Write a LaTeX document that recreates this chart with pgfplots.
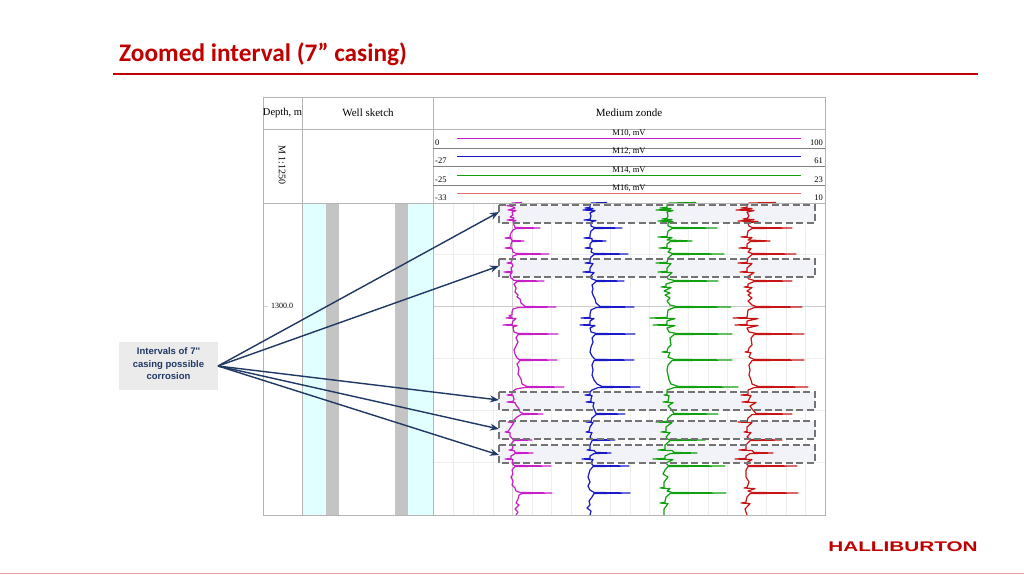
\documentclass[border=0pt]{standalone}
\usepackage{fontspec}
\setmainfont{Liberation Serif}
\newfontfamily\carlito{Carlito}
\newfontfamily\arial{Liberation Sans}
\usepackage{pgfplots}
\usepackage{pgfplotstable}
\pgfplotsset{compat=1.18}
\usetikzlibrary{arrows.meta}

\definecolor{titlered}{HTML}{C00000}
\definecolor{footline}{HTML}{E8A0A0}
\definecolor{navy}{HTML}{1F3864}
\definecolor{gridc}{HTML}{B4B4B4}
\definecolor{boxfill}{HTML}{F2F3F8}
\definecolor{wellc}{HTML}{E2FFFF}
\definecolor{casing}{HTML}{C4C4C4}
\definecolor{mten}{HTML}{C81EC8}
\definecolor{mtwelve}{HTML}{1A1AC8}
\definecolor{mfourteen}{HTML}{10A010}
\definecolor{msixteen}{HTML}{C81414}
\definecolor{msixteenl}{HTML}{E07070}

% curves in picture pixels: position across the track, position down the track
\pgfplotstableread[row sep=\\]{
x y\\
522 202.5\\ 512 203\\ 512 205\\ 507 205.6\\ 512 206.4\\ 515 208\\ 512 209\\ 508 210\\ 516 210.6\\ 512 212\\
513 215\\ 510 217\\ 514 218\\ 513 219.4\\ 507 220\\ 516 220.6\\ 513 221.5\\ 514 225\\ 515 227.4\\ 540 228\\
516 228.6\\ 513 230\\ 511 233\\ 510 236\\ 511 237.4\\ 505 238\\ 511 238.6\\ 512 240.4\\ 524 241\\ 512 241.6\\
511 244\\ 511 247.4\\ 505 248\\ 512 248.6\\ 513 252\\ 516 253.4\\ 549 254\\ 517 254.6\\ 513 256\\ 512 260\\
511 262.4\\ 507 263\\ 512 263.6\\ 513 266\\ 511 268\\ 512 271.4\\ 504 272\\ 512 272.6\\ 510 275\\ 511 278\\
514 280.4\\ 544 281\\ 517 281.6\\ 514 284\\ 516 288\\ 515 292\\ 518 295\\ 517 297\\ 520 299\\ 521 303\\
525 306.4\\ 556 307\\ 518 307.6\\ 513 309\\ 512 312\\ 512 315\\ 509 315.6\\ 512 317.4\\ 506 318\\ 516 318.6\\
513 321\\ 512 324.4\\ 503 325\\ 517 325.6\\ 513 327\\ 514 332\\ 518 333.4\\ 558 334\\ 518 334.6\\ 516 338\\
518 342\\ 516 346\\ 514 350\\ 515 354\\ 517 358\\ 519 359.4\\ 557 360\\ 520 360.6\\ 517 364\\ 519 369\\
518 374\\ 521 379\\ 522 384\\ 527 386.4\\ 564 387\\ 524 387.6\\ 516 389\\ 512 392\\ 512 394.4\\ 507 395\\
513 395.6\\ 514 399\\ 513 401.4\\ 507 402\\ 515 402.6\\ 516 405\\ 519 409\\ 520 412\\ 523 413.4\\ 543 414\\
521 414.6\\ 517 417\\ 514 420\\ 512 421.4\\ 508 422\\ 514 422.6\\ 511 427\\ 509 430\\ 508 431.4\\ 505 432\\
510 432.6\\ 510 436\\ 513 439.4\\ 532 440\\ 514 440.6\\ 511 444\\ 513 447\\ 512 449.4\\ 509 450\\ 514 450.6\\
515 452.4\\ 533 453\\ 515 453.6\\ 511 456\\ 511 458.4\\ 505 459\\ 513 459.6\\ 512 463\\ 514 465.4\\ 551 466\\
515 466.6\\ 512 470\\ 513 474\\ 511 477\\ 513 481\\ 512 485\\ 515 488\\ 516 491\\ 520 492.4\\ 552 493\\
522 493.6\\ 519 495\\ 518 499\\ 516 503\\ 519 505\\ 515 509\\ 518 512\\ 516 515\\
}\mten

\pgfplotstableread[row sep=\\]{
x y\\
607 202.5\\ 591 203\\ 590 205\\ 590 207.4\\ 585 208\\ 593 208.6\\ 590 209.4\\ 583 210\\ 595 210.6\\ 590 213\\
591 216\\ 590 219.4\\ 584 220\\ 596 220.6\\ 591 222\\ 591 226\\ 594 227.4\\ 622 228\\ 594 228.6\\ 591 231\\
590 235\\ 590 237.4\\ 584 238\\ 592 238.6\\ 592 240.4\\ 606 241\\ 592 241.6\\ 590 244\\ 590 247.4\\ 585 248\\
592 248.6\\ 591 252\\ 594 253.4\\ 628 254\\ 594 254.6\\ 591 257\\ 590 260\\ 590 262.4\\ 585 263\\ 593 263.6\\
590 268\\ 590 271.4\\ 583 272\\ 594 272.6\\ 590 277\\ 592 279\\ 596 280.4\\ 624 281\\ 596 281.6\\ 592 285\\
593 289\\ 592 292\\ 593 295\\ 595 299\\ 596 303\\ 600 306.4\\ 634 307\\ 596 307.6\\ 591 310\\ 590 314\\
590 317.4\\ 581 318\\ 594 318.6\\ 590 321\\ 590 324.4\\ 580 325\\ 595 325.6\\ 590 328\\ 591 332\\ 596 333.4\\
635 334\\ 595 334.6\\ 592 338\\ 593 342\\ 591 347\\ 590 352\\ 592 356\\ 595 359.4\\ 634 360\\ 594 360.6\\
592 365\\ 593 370\\ 592 375\\ 594 380\\ 597 384\\ 602 386.4\\ 640 387\\ 598 387.6\\ 592 390\\ 590 392\\
590 394.4\\ 585 395\\ 592 395.6\\ 591 399\\ 591 401.4\\ 586 402\\ 594 402.6\\ 593 406\\ 594 409\\ 596 413.4\\
625 414\\ 596 414.6\\ 592 418\\ 591 421.4\\ 586 422\\ 593 422.6\\ 590 427\\ 589 431.4\\ 586 432\\ 592 432.6\\
590 437\\ 592 439.4\\ 615 440\\ 592 440.6\\ 590 445\\ 590 449.4\\ 587 450\\ 594 450.6\\ 596 452.4\\ 611 453\\
594 453.6\\ 590 456\\ 590 458.4\\ 582 459\\ 593 459.6\\ 591 463\\ 593 465.4\\ 629 466\\ 593 466.6\\ 590 470\\
588 477\\ 590 482\\ 588 486\\ 590 490\\ 594 492.4\\ 630 493\\ 594 493.6\\ 592 497\\ 589 501\\ 590 505\\
587 508\\ 591 511\\ 590 515\\
}\mtwelve

\pgfplotstableread[row sep=\\]{
x y\\
696 202.5\\ 669 203\\ 667 205\\ 667 207.4\\ 660 208\\ 671 208.6\\ 667 209.4\\ 656 210\\ 673 210.6\\ 667 212\\
668 216\\ 667 218.4\\ 662 219\\ 672 219.6\\ 667 220.4\\ 658 221\\ 673 221.6\\ 668 223\\ 668 226\\ 672 227.4\\
717 228\\ 672 228.6\\ 668 231\\ 667 236.4\\ 658 237\\ 672 237.6\\ 667 240\\ 692 241\\ 670 241.6\\ 667 244\\
667 247.4\\ 659 248\\ 671 248.6\\ 668 252\\ 672 253.4\\ 724 254\\ 672 254.6\\ 668 258\\ 667 262.4\\ 656 263\\
671 263.6\\ 667 268\\ 667 271.4\\ 658 272\\ 672 272.6\\ 667 277\\ 668 279\\ 674 280.4\\ 718 281\\ 674 281.6\\
666 284\\ 666 286.4\\ 661 287\\ 671 287.6\\ 666 290\\ 664 291\\ 670 293\\ 665 295\\ 670 298\\ 667 301\\
670 305\\ 676 306.4\\ 731 307\\ 674 307.6\\ 668 310\\ 667 317.4\\ 650 318\\ 675 318.6\\ 667 321\\ 667 324.4\\
653 325\\ 675 325.6\\ 667 328\\ 669 332\\ 676 333.4\\ 732 334\\ 674 334.6\\ 670 338\\ 671 345\\ 668 348\\
667 351.4\\ 662 352\\ 670 352.6\\ 668 357\\ 674 359.4\\ 732 360\\ 672 360.6\\ 668 365\\ 667 370\\ 668 375\\
669 380\\ 671 384\\ 678 386.4\\ 738 387\\ 674 387.6\\ 667 390\\ 667 394.4\\ 664 395\\ 669 395.6\\ 668 401.4\\
663 402\\ 673 402.6\\ 668 406\\ 671 409\\ 674 413.4\\ 718 414\\ 672 414.6\\ 668 418\\ 667 421.4\\ 656 422\\
672 422.6\\ 666 427\\ 666 431.4\\ 661 432\\ 670 432.6\\ 666 437\\ 668 439.4\\ 705 440\\ 670 440.6\\ 665 445\\
665 449.4\\ 658 450\\ 672 450.6\\ 674 452.4\\ 697 453\\ 670 453.6\\ 665 456\\ 665 458.4\\ 653 459\\ 673 459.6\\
666 463\\ 668 465.4\\ 725 466\\ 668 466.6\\ 665 470\\ 663 474\\ 668 477\\ 664 482\\ 664 487.4\\ 660 488\\
670 488.6\\ 667 491\\ 672 492.4\\ 726 493\\ 670 493.6\\ 666 497\\ 665 501\\ 665 502.4\\ 660 503\\ 668 503.6\\
664 509\\ 664 515\\
}\mfourteen

\pgfplotstableread[row sep=\\]{
x y\\
776 202.5\\ 749 203\\ 747 205\\ 747 207.4\\ 741 208\\ 752 208.6\\ 747 209.4\\ 736 210\\ 754 210.6\\ 747 212\\
749 216\\ 747 218.4\\ 743 219\\ 754 219.6\\ 747 220.4\\ 738 221\\ 758 221.6\\ 748 223\\ 749 226\\ 752 227.4\\
792 228\\ 752 228.6\\ 748 231\\ 747 236.4\\ 741 237\\ 752 237.6\\ 748 240\\ 770 241\\ 750 241.6\\ 747 244\\
747 247.4\\ 739 248\\ 751 248.6\\ 748 252\\ 752 253.4\\ 796 254\\ 752 254.6\\ 748 258\\ 747 262.4\\ 738 263\\
752 263.6\\ 747 268\\ 747 271.4\\ 740 272\\ 754 272.6\\ 747 277\\ 749 279\\ 754 280.4\\ 792 281\\ 754 281.6\\
748 284\\ 748 286.4\\ 744 287\\ 752 287.6\\ 747 291\\ 751 293\\ 748 295\\ 752 298\\ 748 301\\ 752 305\\
756 306.4\\ 802 307\\ 754 307.6\\ 748 310\\ 747 317.4\\ 733 318\\ 758 318.6\\ 747 321\\ 747 324.4\\ 735 325\\
758 325.6\\ 747 328\\ 749 332\\ 756 333.4\\ 804 334\\ 754 334.6\\ 751 338\\ 752 345\\ 749 348\\ 748 351.4\\
745 352\\ 751 352.6\\ 749 357\\ 754 359.4\\ 804 360\\ 752 360.6\\ 749 365\\ 750 370\\ 749 375\\ 751 380\\
752 384\\ 758 386.4\\ 808 387\\ 754 387.6\\ 748 390\\ 748 394.4\\ 741 395\\ 751 395.6\\ 748 401.4\\ 742 402\\
756 402.6\\ 750 406\\ 752 409\\ 756 413.4\\ 792 414\\ 752 414.6\\ 748 418\\ 747 421.4\\ 738 422\\ 752 422.6\\
747 427\\ 747 431.4\\ 744 432\\ 751 432.6\\ 747 437\\ 750 439.4\\ 782 440\\ 750 440.6\\ 746 445\\ 746 449.4\\
739 450\\ 752 450.6\\ 754 452.4\\ 773 453\\ 750 453.6\\ 746 456\\ 746 458.4\\ 735 459\\ 752 459.6\\ 746 463\\
748 465.4\\ 797 466\\ 748 466.6\\ 746 470\\ 746 477\\ 749 482\\ 747 487.4\\ 744 488\\ 755 488.6\\ 748 491\\
752 492.4\\ 798 493\\ 750 493.6\\ 747 497\\ 746 501\\ 746 502.4\\ 741 503\\ 750 503.6\\ 745 509\\ 747 515\\
}\msixteen

\begin{document}
\begin{tikzpicture}
\begin{axis}[
scale only axis,
width=1024pt, height=574pt,
xmin=0, xmax=1024,
ymin=0, ymax=574,
y dir=reverse,
axis lines=none,
ticks=none,
clip=true,
]
% hidden axis: the white page keeps the bounding box at full size
\fill[white] (axis cs:0,0) rectangle (axis cs:1024,574);

% well sketch
\fill[wellc] (axis cs:302,203) rectangle (axis cs:326,515);
\fill[wellc] (axis cs:408,203) rectangle (axis cs:433,515);
\fill[casing] (axis cs:326,203) rectangle (axis cs:339,515);
\fill[casing] (axis cs:395,203) rectangle (axis cs:408,515);

% faint track grid
\foreach \gx in {453,473,493,532,551,571,610,630,649,669,688,708,727,766,786,805}
  \edef\temp{\noexpand\draw[draw=gridc!22,line width=0.4pt] (axis cs:\gx,203) -- (axis cs:\gx,515);}\temp
\foreach \gy in {254,358,410,462}
  \edef\temp{\noexpand\draw[draw=gridc!22,line width=0.4pt] (axis cs:433,\gy) -- (axis cs:825,\gy);}\temp
\draw[draw=gridc!60,line width=0.4pt] (axis cs:512.5,203) -- (axis cs:512.5,515);
\draw[draw=gridc!70,line width=0.9pt] (axis cs:433,306) -- (axis cs:825,306);
\draw[draw=gridc!60,line width=0.4pt] (axis cs:263,306) -- (axis cs:268,306);

% intervals
\foreach \a/\b in {205/223,259/277,392/410,421/439,445/463}{
  \edef\temp{\noexpand\fill[boxfill] (axis cs:499,\a) rectangle (axis cs:815,\b);}\temp
}

\addplot[mten,line width=1.2pt,line join=round,forget plot] table[x=x,y=y] {\mten};
\addplot[mtwelve,line width=1.2pt,line join=round,forget plot] table[x=x,y=y] {\mtwelve};
\addplot[mfourteen,line width=1.2pt,line join=round,forget plot] table[x=x,y=y] {\mfourteen};
\addplot[msixteen,line width=1.2pt,line join=round,forget plot] table[x=x,y=y] {\msixteen};

\foreach \a/\b in {205/223,259/277,392/410,421/439,445/463}{
  \edef\temp{\noexpand\draw[draw=black!55,line width=1.4pt,dash pattern=on 7pt off 3.5pt] (axis cs:499,\a) rectangle (axis cs:815,\b);}\temp
}

% frame
\draw[draw=gridc,line width=0.8pt] (axis cs:263,97) rectangle (axis cs:825,515);
\draw[draw=gridc,line width=0.8pt] (axis cs:263,129) -- (axis cs:825,129);
\draw[draw=gridc,line width=0.8pt] (axis cs:263,203) -- (axis cs:825,203);
\draw[draw=gridc,line width=0.8pt] (axis cs:302,97) -- (axis cs:302,515);
\draw[draw=gridc,line width=0.8pt] (axis cs:433,97) -- (axis cs:433,515);
\fill[black!50] (axis cs:433,147.5) rectangle (axis cs:825,148.5);
\fill[black!50] (axis cs:433,165.5) rectangle (axis cs:825,166.5);
\fill[black!50] (axis cs:433,184.5) rectangle (axis cs:825,185.5);

% header
\node[font=\fontsize{10.5}{13}\selectfont] at (axis cs:282.5,113) {Depth, m};
\node[font=\fontsize{11}{13}\selectfont] at (axis cs:368,113) {Well sketch};
\node[font=\fontsize{11}{13}\selectfont] at (axis cs:629,113) {Medium zonde};
\node[font=\fontsize{10}{12}\selectfont,rotate=-90] at (axis cs:282,165) {M 1:1250};
\node[font=\fontsize{8}{10}\selectfont] at (axis cs:282,306) {1300.0};

\fill[mten] (axis cs:457,137.5) rectangle (axis cs:801,138.5);
\fill[mtwelve] (axis cs:457,155.5) rectangle (axis cs:801,156.5);
\fill[mfourteen] (axis cs:457,174.5) rectangle (axis cs:801,175.5);
\fill[msixteenl] (axis cs:457,192.5) rectangle (axis cs:801,193.5);
\node[font=\fontsize{8.5}{10}\selectfont] at (axis cs:629,133) {M10, mV};
\node[font=\fontsize{8.5}{10}\selectfont] at (axis cs:629,151) {M12, mV};
\node[font=\fontsize{8.5}{10}\selectfont] at (axis cs:629,170) {M14, mV};
\node[font=\fontsize{8.5}{10}\selectfont] at (axis cs:629,188) {M16, mV};
\node[font=\fontsize{8.5}{10}\selectfont,anchor=west,inner sep=0pt] at (axis cs:435,143) {0};
\node[font=\fontsize{8.5}{10}\selectfont,anchor=west,inner sep=0pt] at (axis cs:435,161) {-27};
\node[font=\fontsize{8.5}{10}\selectfont,anchor=west,inner sep=0pt] at (axis cs:435,180) {-25};
\node[font=\fontsize{8.5}{10}\selectfont,anchor=west,inner sep=0pt] at (axis cs:435,198) {-33};
\node[font=\fontsize{8.5}{10}\selectfont,anchor=east,inner sep=0pt] at (axis cs:823,143) {100};
\node[font=\fontsize{8.5}{10}\selectfont,anchor=east,inner sep=0pt] at (axis cs:823,161) {61};
\node[font=\fontsize{8.5}{10}\selectfont,anchor=east,inner sep=0pt] at (axis cs:823,180) {23};
\node[font=\fontsize{8.5}{10}\selectfont,anchor=east,inner sep=0pt] at (axis cs:823,198) {10};

% call-out
\fill[black!8] (axis cs:119,342) rectangle (axis cs:218,390);
\node[font=\arial\bfseries\fontsize{9.5}{12.5}\selectfont,text=navy,align=center] at (axis cs:168.5,364) {Intervals of 7''\\casing possible\\corrosion};
\foreach \ty in {212,266,400,429,455}{
  \edef\temp{\noexpand\draw[draw=navy,fill=navy,line width=1.4pt,-{Stealth[length=9pt,width=7pt]}] (axis cs:218,366) -- (axis cs:499,\ty);}\temp
}

% slide furniture
\node[font=\carlito\bfseries\fontsize{25.3}{28}\selectfont,text=titlered,anchor=west,inner sep=0pt] at (axis cs:119,54) {Zoomed interval (7” casing)};
\fill[titlered] (axis cs:113,72.5) rectangle (axis cs:978,74.5);
\node[font=\arial\bfseries\fontsize{14}{16}\selectfont,text=titlered,inner sep=0pt,xscale=1.48] at (axis cs:903,547) {HALLIBURTON};
\fill[footline] (axis cs:0,572.5) rectangle (axis cs:1024,574);
\end{axis}
\end{tikzpicture}
\end{document}
